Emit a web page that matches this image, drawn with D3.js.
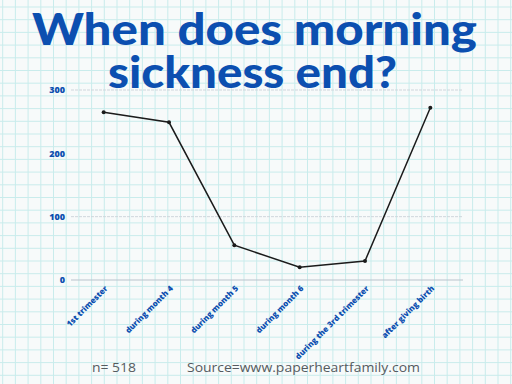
<!DOCTYPE html>
<html>
<head>
<meta charset="utf-8">
<script src="https://cdn.jsdelivr.net/npm/d3@7"></script>
<style>
  html, body { margin: 0; padding: 0; background: #f7fafa; }
</style>
</head>
<body>
<div id="chart-container"></div>
<script>
// Data
const categories = ["1st trimester", "during month 4", "during month 5", "during month 6", "during the 3rd trimester", "after giving birth"];
const counts = [265, 249, 55, 20, 30, 272];
const yTicks = [0, 100, 200, 300];
const titleLines = ["When does morning", "sickness end?"];
const footerTexts = ["n= 518", "Source=www.paperheartfamily.com"];

const width = 512;
const height = 384;
const blue = "#0c4fb0";

const svg = d3.select("#chart-container")
    .append("svg")
    .attr("width", width)
    .attr("height", height);

// paper background
svg.append("rect")
    .attr("width", width)
    .attr("height", height)
    .attr("fill", "#f7fafa");

// graph paper grid
const gridStep = 12.7;
const grid = svg.append("g").attr("stroke", "#c9ecec").attr("stroke-width", 1);
grid.selectAll("line.v")
    .data(d3.range(2.7, width, gridStep))
    .join("line")
    .attr("x1", d => d).attr("x2", d => d)
    .attr("y1", 0).attr("y2", height);
grid.selectAll("line.h")
    .data(d3.range(7, height, gridStep))
    .join("line")
    .attr("x1", 0).attr("x2", width)
    .attr("y1", d => d).attr("y2", d => d);

// scales
const x = d3.scalePoint()
    .domain(categories)
    .range([71, 463])
    .padding(0.5);

const y = d3.scaleLinear()
    .domain([0, 300])
    .range([280, 90]);

// horizontal reference lines
svg.append("g")
    .selectAll("line")
    .data(yTicks.filter(d => d !== 200))
    .join("line")
    .attr("x1", 71).attr("x2", 463)
    .attr("y1", d => y(d)).attr("y2", d => y(d))
    .attr("stroke", d => d === 0 ? "#b9c3cc" : "#cfd6dc")
    .attr("stroke-width", 1)
    .attr("stroke-dasharray", d => d === 0 ? null : "3,1");

// y axis labels
const yAxis = svg.append("g")
    .attr("transform", "translate(71,0)")
    .call(d3.axisLeft(y).tickValues(yTicks).tickSize(0).tickPadding(6));
yAxis.select(".domain").remove();
yAxis.selectAll("text")
    .attr("fill", blue)
    .attr("font-family", "'Open Sans', sans-serif")
    .attr("font-weight", 800)
    .attr("font-size", 9);

// x axis labels
const xAxis = svg.append("g")
    .attr("transform", "translate(0,280)")
    .call(d3.axisBottom(x).tickSize(0).tickPadding(0));
xAxis.select(".domain").remove();
xAxis.selectAll("text")
    .attr("fill", blue)
    .attr("font-family", "'Open Sans', sans-serif")
    .attr("font-weight", 800)
    .attr("font-size", 8)
    .attr("text-anchor", "end")
    .attr("dy", 0)
    .attr("transform", "translate(4,9) rotate(-45)");

// the line
const line = d3.line()
    .x((d, i) => x(categories[i]))
    .y(d => y(d));

svg.append("path")
    .datum(counts)
    .attr("fill", "none")
    .attr("stroke", "#1b1b1b")
    .attr("stroke-width", 1.5)
    .attr("d", line);

svg.append("g")
    .selectAll("circle")
    .data(counts)
    .join("circle")
    .attr("cx", (d, i) => x(categories[i]))
    .attr("cy", d => y(d))
    .attr("r", 2)
    .attr("fill", "#1b1b1b");

// title
const titlePos = [
    { x: 32, w: 445, y: 45 },
    { x: 108, w: 289, y: 88 },
];
svg.append("g")
    .selectAll("text")
    .data(titleLines)
    .join("text")
    .attr("x", (d, i) => titlePos[i].x)
    .attr("y", (d, i) => titlePos[i].y)
    .attr("textLength", (d, i) => titlePos[i].w)
    .attr("lengthAdjust", "spacingAndGlyphs")
    .attr("fill", blue)
    .attr("font-family", "Lato, sans-serif")
    .attr("font-weight", 900)
    .attr("font-size", 43)
    .text(d => d);

// footer
const footerPos = [
    { x: 92, w: 44 },
    { x: 187, w: 233 },
];
svg.append("g")
    .selectAll("text")
    .data(footerTexts)
    .join("text")
    .attr("x", (d, i) => footerPos[i].x)
    .attr("y", 372)
    .attr("textLength", (d, i) => footerPos[i].w)
    .attr("lengthAdjust", "spacingAndGlyphs")
    .attr("fill", "#555b60")
    .attr("font-family", "'Open Sans', sans-serif")
    .attr("font-size", 13.5)
    .text(d => d);
</script>
</body>
</html>
